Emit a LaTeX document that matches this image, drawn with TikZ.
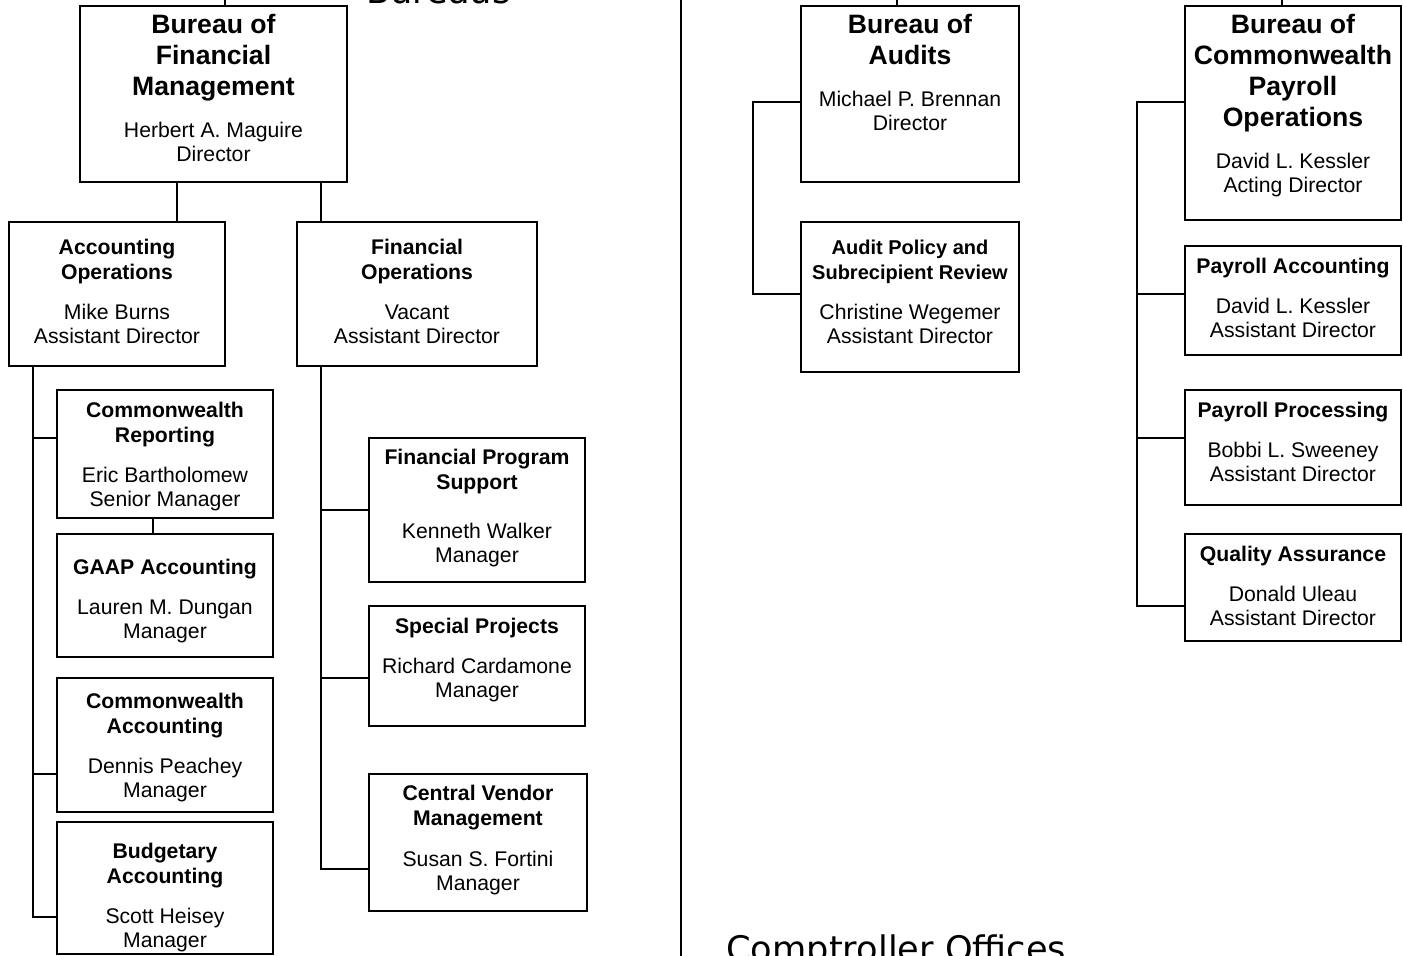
\documentclass[tikz,border=0pt]{standalone}
\usepackage{fontspec}
\setmainfont{Liberation Sans}
\newfontfamily\sectfont{DejaVu Sans}
\usetikzlibrary{positioning,calc,fit}

\tikzset{
  unit/.style={draw, line width=1pt, inner sep=0pt},
  bigtitle/.style={align=center, inner sep=0pt, font=\fontsize{13.3}{15.5}\selectfont\bfseries},
  title/.style={align=center, inner sep=0pt, font=\fontsize{10.6}{12.5}\selectfont\bfseries},
  person/.style={align=center, inner sep=0pt, font=\fontsize{10.6}{12}\selectfont},
  section/.style={inner sep=0pt, font=\sectfont\fontsize{17.6}{20}\selectfont},
  link/.style={line width=1pt},
}

\begin{document}
\begin{tikzpicture}[x=0.5pt, y=-0.5pt]
\useasboundingbox (0,0) rectangle (1403,956);
\clip (0,0) rectangle (1403,956);

% headings, cut by the page
\node[section, anchor=base west] (hdbureaus) at (366,3.5) {Bureaus};
\node[section, anchor=base west] (hdoffices) at (726,961) {Comptroller Offices};

% divider
\coordinate (divtop) at (681,0);
\coordinate (divbot) at (681,956);
\draw[link] (divtop) -- (divbot);

% Bureau of Financial Management
\node[unit, fit={(80,6) (347,182)}] (bfm) {};
\node[bigtitle] (bfmT) at ($(bfm.north)+(0,53)$) {Bureau of\\Financial\\Management};
\node[person] (bfmN) at ($(bfm.north)+(0,137)$) {Herbert A. Maguire\\Director};

\node[unit, fit={(9,222) (225,366)}] (accops) {};
\node[title] (accopsT) at ($(accops.north)+(0,40.5)$) {Accounting\\Operations};
\node[person] (accopsN) at ($(accops.north)+(0,103)$) {Mike Burns\\Assistant Director};

\node[unit, fit={(297,222) (537,366)}] (finops) {};
\node[title] (finopsT) at ($(finops.north)+(0,40.5)$) {Financial\\Operations};
\node[person] (finopsN) at ($(finops.north)+(0,103)$) {Vacant\\Assistant Director};

\node[unit, fit={(57,390) (273,518)}] (cwrep) {};
\node[title] (cwrepT) at ($(cwrep.north)+(0,35.5)$) {Commonwealth\\Reporting};
\node[person] (cwrepN) at ($(cwrep.north)+(0,100)$) {Eric Bartholomew\\Senior Manager};

\node[unit, fit={(57,534) (273,657)}] (gaap) {};
\node[title] (gaapT) at ($(gaap.north)+(0,36)$) {GAAP Accounting};
\node[person] (gaapN) at ($(gaap.north)+(0,88.5)$) {Lauren M. Dungan\\Manager};

\node[unit, fit={(57,678) (273,812)}] (cwacc) {};
\node[title] (cwaccT) at ($(cwacc.north)+(0,38.5)$) {Commonwealth\\Accounting};
\node[person] (cwaccN) at ($(cwacc.north)+(0,103.5)$) {Dennis Peachey\\Manager};

\node[unit, fit={(57,822) (273,954)}] (budg) {};
\node[title] (budgT) at ($(budg.north)+(0,44.5)$) {Budgetary\\Accounting};
\node[person] (budgN) at ($(budg.north)+(0,109.5)$) {Scott Heisey\\Manager};

\node[unit, fit={(369,438) (585,582)}] (fps) {};
\node[title] (fpsT) at ($(fps.north)+(0,35)$) {Financial Program\\Support};
\node[person] (fpsN) at ($(fps.north)+(0,108)$) {Kenneth Walker\\Manager};

\node[unit, fit={(369,606) (585,726)}] (spec) {};
\node[title] (specT) at ($(spec.north)+(0,23)$) {Special Projects};
\node[person] (specN) at ($(spec.north)+(0,75)$) {Richard Cardamone\\Manager};

\node[unit, fit={(369,774) (587,911)}] (cvm) {};
\node[title] (cvmT) at ($(cvm.north)+(0,35)$) {Central Vendor\\Management};
\node[person] (cvmN) at ($(cvm.north)+(0,100)$) {Susan S. Fortini\\Manager};

% Bureau of Audits
\node[unit, fit={(801,6) (1019,182)}] (audits) {};
\node[bigtitle] (auditsT) at ($(audits.north)+(0,34.5)$) {Bureau of\\Audits};
\node[person] (auditsN) at ($(audits.north)+(0,106)$) {Michael P. Brennan\\Director};

\node[unit, fit={(801,222) (1019,372)}] (apsr) {};
\node[title, font=\fontsize{10}{12.5}\selectfont\bfseries] (apsrT) at ($(apsr.north)+(0,40.5)$) {Audit Policy and\\Subrecipient Review};
\node[person] (apsrN) at ($(apsr.north)+(0,103)$) {Christine Wegemer\\Assistant Director};

% Bureau of Commonwealth Payroll Operations
\node[unit, fit={(1185,6) (1401,220)}] (bcpo) {};
\node[bigtitle] (bcpoT) at ($(bcpo.north)+(0,68.5)$) {Bureau of\\Commonwealth\\Payroll\\Operations};
\node[person] (bcpoN) at ($(bcpo.north)+(0,170)$) {David L. Kessler\\Acting Director};

\node[unit, fit={(1185,246) (1401,355)}] (payacc) {};
\node[title] (payaccT) at ($(payacc.north)+(0,23)$) {Payroll Accounting};
\node[person] (payaccN) at ($(payacc.north)+(0,73)$) {David L. Kessler\\Assistant Director};

\node[unit, fit={(1185,390) (1401,505)}] (payproc) {};
\node[title] (payprocT) at ($(payproc.north)+(0,23)$) {Payroll Processing};
\node[person] (payprocN) at ($(payproc.north)+(0,73)$) {Bobbi L. Sweeney\\Assistant Director};

\node[unit, fit={(1185,534) (1401,641)}] (qa) {};
\node[title] (qaT) at ($(qa.north)+(0,23)$) {Quality Assurance};
\node[person] (qaN) at ($(qa.north)+(0,73)$) {Donald Uleau\\Assistant Director};

% links, left half
\coordinate (bfmup) at (225,0);
\coordinate (accdrop) at (177,0);
\coordinate (findrop) at (321,0);
\draw[link] (bfmup) -- (bfmup |- bfm.north);
\draw[link] (bfm.south -| accdrop) -- (accops.north -| accdrop);
\draw[link] (bfm.south -| findrop) -- (finops.north -| findrop);

\coordinate (accA) at (33,438);
\coordinate (accB) at (33,774);
\coordinate (accC) at (33,917);
\draw[link] (accops.south -| accA) -- (accC) -- (accC -| budg.west);
\draw[link] (accA) -- (accA -| cwrep.west);
\draw[link] (accB) -- (accB -| cwacc.west);
\coordinate (gaapup) at (153,0);
\draw[link] (cwrep.south -| gaapup) -- (gaap.north -| gaapup);

\coordinate (finA) at (321,510);
\coordinate (finB) at (321,678);
\coordinate (finC) at (321,869);
\draw[link] (finops.south -| finA) -- (finC) -- (finC -| cvm.west);
\draw[link] (finA) -- (finA -| fps.west);
\draw[link] (finB) -- (finB -| spec.west);

% links, right half
\coordinate (audup) at (897,0);
\draw[link] (audup) -- (audup |- audits.north);
\coordinate (audA) at (753,102);
\coordinate (audB) at (753,294);
\draw[link] (audA -| audits.west) -- (audA) -- (audB) -- (audB -| apsr.west);

\coordinate (payup) at (1282,0);
\draw[link] (payup) -- (payup |- bcpo.north);
\coordinate (payA) at (1137,102);
\coordinate (payB) at (1137,294);
\coordinate (payC) at (1137,438);
\coordinate (payD) at (1137,606);
\draw[link] (payA -| bcpo.west) -- (payA) -- (payD) -- (payD -| qa.west);
\draw[link] (payB) -- (payB -| payacc.west);
\draw[link] (payC) -- (payC -| payproc.west);
\end{tikzpicture}
\end{document}
